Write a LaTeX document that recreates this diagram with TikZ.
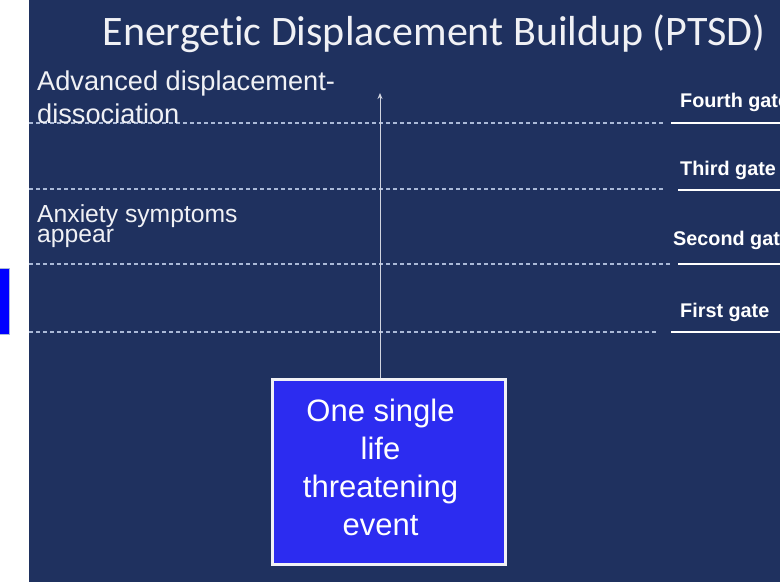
\documentclass[tikz,border=0pt]{standalone}
\usepackage{fontspec}
\setmainfont{Liberation Sans}
\newfontfamily\titlefont[Ligatures=NoCommon]{Carlito}
\usetikzlibrary{arrows.meta,positioning}
\definecolor{navy}{RGB}{31,49,95}
\definecolor{eventblue}{RGB}{44,44,240}
\definecolor{dashgray}{RGB}{170,185,215}
\definecolor{softwhite}{RGB}{240,241,245}

\begin{document}
\begin{tikzpicture}[x=1pt, y=-1pt,
    lbl/.style={anchor=base west, inner sep=0pt, text=softwhite, align=left},
    gate/.style={anchor=base west, inner sep=0pt, text=white,
                 font=\fontsize{19.8}{22}\selectfont\bfseries},
    level/.style={dashgray, line width=1.2pt, dash pattern=on 4pt off 3pt},
    sill/.style={white, line width=2.5pt},
    eventbox/.style={draw=softwhite, line width=3pt, fill=eventblue,
                     minimum width=233pt, minimum height=185pt},
    eventtext/.style={inner sep=0pt, text=white, align=center,
                      font=\fontsize{31}{38}\selectfont},
    arr/.style={-{Stealth[length=6pt, width=5pt]}, line width=1pt, softwhite!85!navy}
  ]
  \useasboundingbox (0,0) rectangle (780,582);
  \clip (0,0) rectangle (780,582);
  \fill[navy] (29,0) rectangle (780,582);
  \draw[fill=blue, draw=dashgray] (-5,268) rectangle (9,334);

  % title
  \node[anchor=base, inner sep=0pt, text=softwhite,
        font=\titlefont\fontsize{42}{44}\selectfont] (title) at (434,45)
        {Energetic Displacement Buildup (PTSD)};

  % levels
  \draw[level] (29,123) -- (665,123);
  \draw[level] (29,189) -- (665,189);
  \draw[level] (29,264) -- (672,264);
  \draw[level] (29,332) -- (658,332);

  % gates
  \node[gate] (gate4) at (680,107) {Fourth gate};
  \node[gate] (gate3) at (680,175) {Third gate};
  \node[gate] (gate2) at (673,245) {Second gate};
  \node[gate] (gate1) at (680,317) {First gate};
  \draw[sill] (671,123) -- (780,123);
  \draw[sill] (678,190) -- (780,190);
  \draw[sill] (678,264) -- (780,264);
  \draw[sill] (671,332) -- (780,332);

  % symptoms (base = last line)
  \node[lbl, font=\fontsize{27.2}{33}\selectfont] (dissoc) at (37,123)
        {Advanced displacement-\\dissociation};
  \node[lbl, font=\fontsize{24.7}{17}\selectfont] (anxiety) at (37,242)
        {Anxiety symptoms\\appear};

  % event
  \node[eventbox] (event) at (388.5,471.5) {};
  \node[eventtext, xshift=-8pt, yshift=4pt] (eventtxt) at (event.center)
        {One single\\life\\threatening\\event};
  \coordinate (top) at (380,93);
  \draw[arr] (event.north -| top) -- (top);
\end{tikzpicture}
\end{document}
